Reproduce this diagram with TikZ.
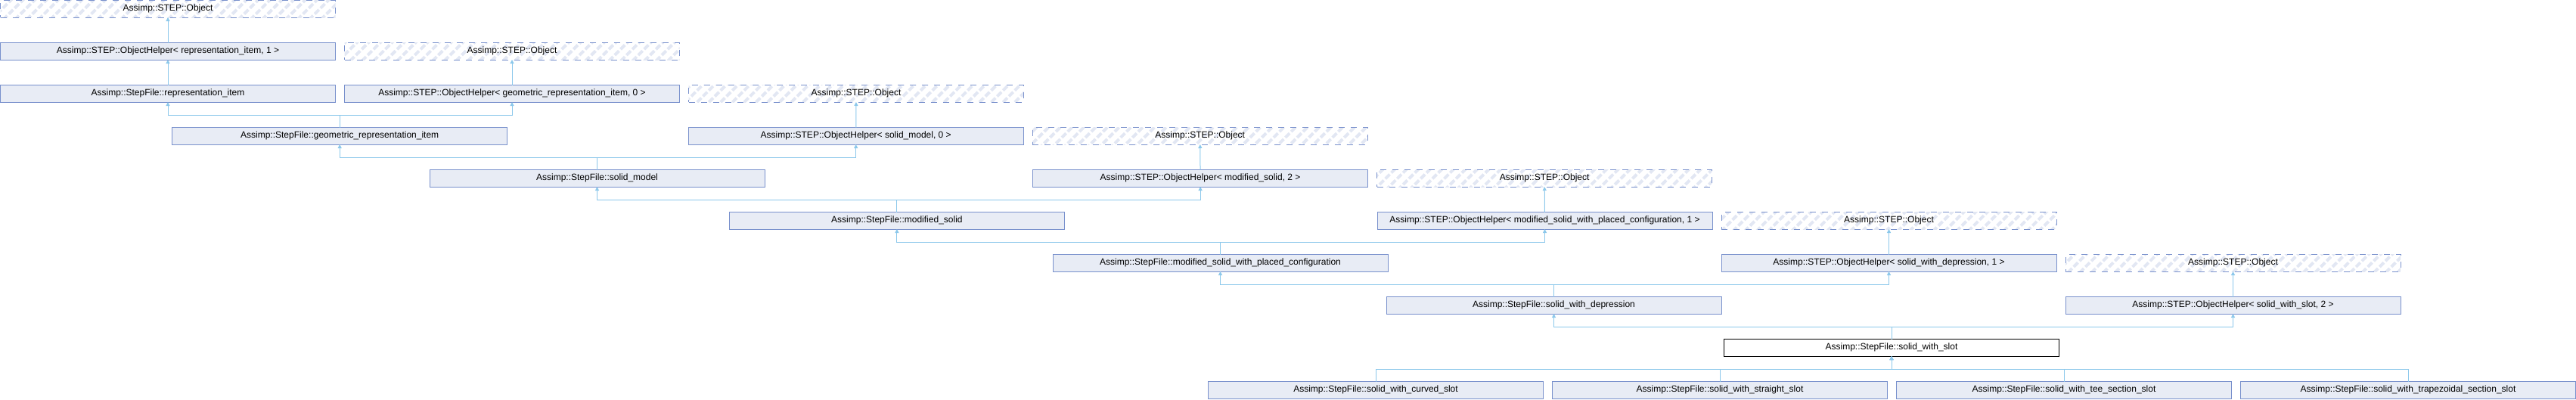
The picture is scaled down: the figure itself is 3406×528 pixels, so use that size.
\documentclass[tikz,border=0pt]{standalone}
\usepackage{fontspec}
\setmainfont{Liberation Sans}
\usetikzlibrary{arrows.meta,positioning,patterns.meta}
\definecolor{clsfill}{RGB}{232,236,245}
\definecolor{clsline}{RGB}{120,144,204}
\definecolor{hatch}{RGB}{226,231,243}
\definecolor{inhline}{RGB}{140,200,235}
\tikzset{
  cls/.style={draw=clsline,fill=clsfill,line width=1pt,anchor=north west,outer sep=0pt,
    minimum width=443pt,minimum height=22.5pt,inner sep=0pt,font=\fontsize{12}{14}\selectfont},
  ext/.style={draw=clsline,line width=1pt,anchor=north west,outer sep=0pt,
    minimum width=443pt,minimum height=22.5pt,inner sep=0pt,font=\fontsize{12}{14}\selectfont,
    dash pattern=on 8pt off 8pt,
    pattern={Lines[angle=45,distance=11pt,line width=4pt]},pattern color=hatch},
  cur/.style={cls,draw=black,fill=white},
  inh/.style={draw=inhline,line width=1pt,-{Triangle[length=5pt,width=5pt]}},
}

\begin{document}
\begin{tikzpicture}[x=1pt,y=1pt,node distance=12pt]
  \useasboundingbox (0,0) rectangle (3406,-528);
  % rows, top to bottom
  \node[ext] (obj1) at (0.5,-0.5) {Assimp::STEP::Object};
  \node[cls] (ohri) at (0.5,-56.5) {Assimp::STEP::ObjectHelper< representation\_item, 1 >};
  \node[ext,right=of ohri] (obj2) {Assimp::STEP::Object};
  \node[cls] (ri) at (0.5,-112.5) {Assimp::StepFile::representation\_item};
  \node[cls,right=of ri] (ohgri) {Assimp::STEP::ObjectHelper< geometric\_representation\_item, 0 >};
  \node[ext,right=of ohgri] (obj3) {Assimp::STEP::Object};
  \node[cls] (gri) at (227.7,-168.5) {Assimp::StepFile::geometric\_representation\_item};
  \node[cls] (ohsm) at (910.2,-168.5) {Assimp::STEP::ObjectHelper< solid\_model, 0 >};
  \node[ext,right=of ohsm] (obj4) {Assimp::STEP::Object};
  \node[cls] (sm) at (568,-224.5) {Assimp::StepFile::solid\_model};
  \node[cls] (ohms) at (1365.6,-224.5) {Assimp::STEP::ObjectHelper< modified\_solid, 2 >};
  \node[ext,right=of ohms] (obj5) {Assimp::STEP::Object};
  \node[cls] (ms) at (964.4,-280.5) {Assimp::StepFile::modified\_solid};
  \node[cls] (ohmspc) at (1821,-280.5) {Assimp::STEP::ObjectHelper< modified\_solid\_with\_placed\_configuration, 1 >};
  \node[ext,right=of ohmspc] (obj6) {Assimp::STEP::Object};
  \node[cls] (mspc) at (1392,-336.5) {Assimp::StepFile::modified\_solid\_with\_placed\_configuration};
  \node[cls] (ohswd) at (2276,-336.5) {Assimp::STEP::ObjectHelper< solid\_with\_depression, 1 >};
  \node[ext,right=of ohswd] (obj7) {Assimp::STEP::Object};
  \node[cls] (swd) at (1833,-392.5) {Assimp::StepFile::solid\_with\_depression};
  \node[cls] (ohsws) at (2731,-392.5) {Assimp::STEP::ObjectHelper< solid\_with\_slot, 2 >};
  \node[cur] (sws) at (2279.5,-448.5) {Assimp::StepFile::solid\_with\_slot};
  \node[cls] (curved) at (1597.5,-504.5) {Assimp::StepFile::solid\_with\_curved\_slot};
  \node[cls,right=of curved] (straight) {Assimp::StepFile::solid\_with\_straight\_slot};
  \node[cls,right=of straight] (tee) {Assimp::StepFile::solid\_with\_tee\_section\_slot};
  \node[cls,right=of tee] (trap) {Assimp::StepFile::solid\_with\_trapezoidal\_section\_slot};
  % inheritance
  \draw[inh] (ohri) -- (obj1);
  \draw[inh] (ri) -- (ohri);
  \draw[inh] (ohgri) -- (obj2);
  \draw[inh] (gri.north) -- ++(0,16) -| (ri.south);
  \draw[inh] (gri.north) -- ++(0,16) -| (ohgri.south);
  \draw[inh] (ohsm) -- (obj3);
  \draw[inh] (sm.north) -- ++(0,16) -| (gri.south);
  \draw[inh] (sm.north) -- ++(0,16) -| (ohsm.south);
  \draw[inh] (ohms) -- (obj4);
  \draw[inh] (ms.north) -- ++(0,16) -| (sm.south);
  \draw[inh] (ms.north) -- ++(0,16) -| (ohms.south);
  \draw[inh] (ohmspc) -- (obj5);
  \draw[inh] (mspc.north) -- ++(0,16) -| (ms.south);
  \draw[inh] (mspc.north) -- ++(0,16) -| (ohmspc.south);
  \draw[inh] (ohswd) -- (obj6);
  \draw[inh] (swd.north) -- ++(0,16) -| (mspc.south);
  \draw[inh] (swd.north) -- ++(0,16) -| (ohswd.south);
  \draw[inh] (ohsws) -- (obj7);
  \draw[inh] (sws.north) -- ++(0,16) -| (swd.south);
  \draw[inh] (sws.north) -- ++(0,16) -| (ohsws.south);
  \foreach \c in {curved,straight,tee,trap}
    \draw[inh] (\c.north) -- ++(0,16) -| (sws.south);
\end{tikzpicture}
\end{document}
